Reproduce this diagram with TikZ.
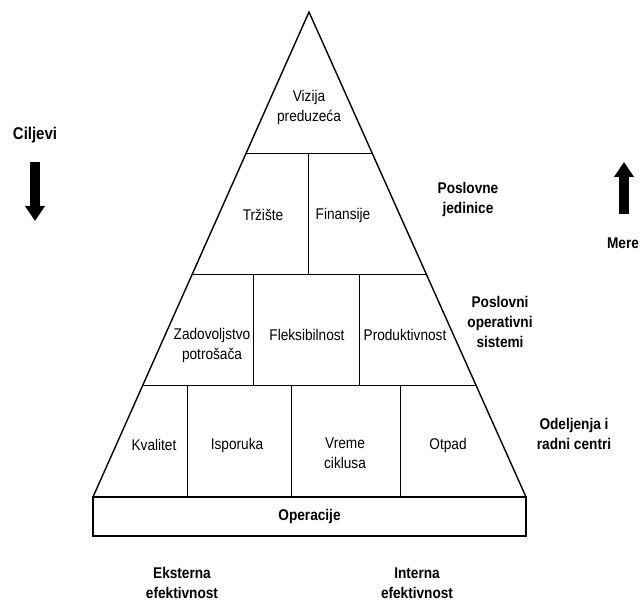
\documentclass[tikz,border=0pt]{standalone}
\usepackage{fontspec}
\setmainfont{Liberation Sans}[FakeStretch=0.88]
\usetikzlibrary{arrows.meta,calc}

\begin{document}
\begin{tikzpicture}
[x=1pt,y=-1pt,every node/.style={align=center,inner sep=0pt,font=\fontsize{15.5}{20}\selectfont},
 bold/.style={font=\fontsize{15.5}{20}\selectfont\bfseries},
 edge/.style={line width=1.4pt},
 cell/.style={line width=0.8pt},
 bigarrow/.style={line width=9.5pt,-{Triangle[width=19pt,length=15pt]}}]
\useasboundingbox (0,0) rectangle (644,601);
% piramida
\coordinate (top) at (309,12);
\coordinate (bl) at (93,497);
\coordinate (br) at (526,497);
\draw[edge] (bl) -- (top) -- (br);
\foreach \t in {0.2907,0.5402,0.7691}
\draw[cell] ($(top)!\t!(bl)$) -- ($(top)!\t!(br)$);
\foreach \x/\ya/\yb in {308/153/274,253/274/385,359/274/385,187/385/497,291/385/497,400/385/497}
\draw[cell] (\x,\ya) -- (\x,\yb);
\node[bold,draw,edge,minimum width=433pt,minimum height=39pt] (oper) at (309.5,516.5) {Operacije};
\node (vizija) at (309,107) {Vizija\\preduzeća};
\node (trziste) at (263,215) {Tržište};
\node (finansije) at (343,215) {Finansije};
\node (zadovoljstvo) at (212,345) {Zadovoljstvo\\potrošača};
\node (fleks) at (307,335) {Fleksibilnost};
\node (produkt) at (405,335) {Produktivnost};
\node (kvalitet) at (154,445) {Kvalitet};
\node (isporuka) at (237,445) {Isporuka};
\node (vreme) at (345,453) {Vreme\\ciklusa};
\node (otpad) at (448,445) {Otpad};
% oznake
\node[bold,font=\fontsize{17}{20}\selectfont\bfseries] (ciljevi) at (35,135) {Ciljevi};
\node[bold] (mere) at (623,243) {Mere};
\node[bold] (jedinice) at (468,199) {Poslovne\\jedinice};
\node[bold] (sistemi) at (500,322) {Poslovni\\operativni\\sistemi};
\node[bold] (centri) at (574,434) {Odeljenja i\\radni centri};
\node[bold] (eksterna) at (182,583) {Eksterna\\efektivnost};
\node[bold] (interna) at (417,583) {Interna\\efektivnost};
% strelice
\coordinate (c1) at (35,162);
\coordinate (c2) at (35,221);
\coordinate (m1) at (624,214);
\coordinate (m2) at (624,162);
\draw[bigarrow] (c1) -- (c2);
\draw[bigarrow] (m1) -- (m2);
\end{tikzpicture}
\end{document}
